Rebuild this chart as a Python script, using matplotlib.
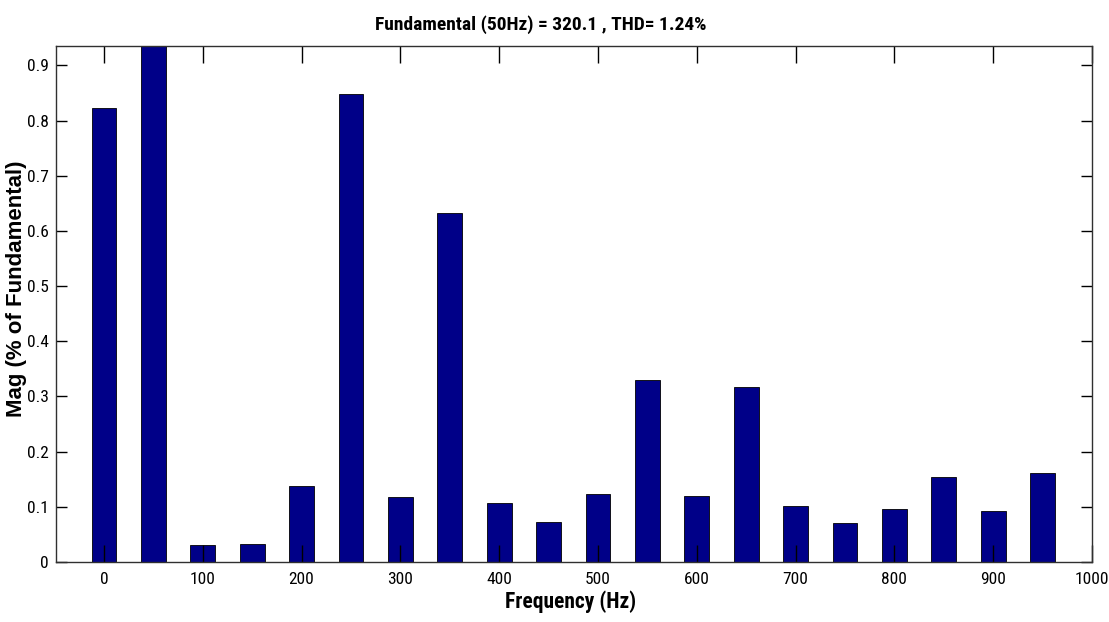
import matplotlib
matplotlib.use("Agg")
import matplotlib.pyplot as plt
from matplotlib import font_manager
import numpy as np

# harmonic spectrum (% of fundamental), bins every 50 Hz
freqs = np.arange(0, 1000, 50)
mags = [0.822, 0.935, 0.030, 0.033, 0.138, 0.848, 0.117, 0.633, 0.107, 0.073,
        0.123, 0.330, 0.120, 0.318, 0.102, 0.070, 0.096, 0.154, 0.093, 0.162]
yticks = np.arange(0, 1.0, 0.1)
ytick_labels = ["0", "0.1", "0.2", "0.3", "0.4", "0.5", "0.6", "0.7", "0.8", "0.9"]
xticks = np.arange(0, 1001, 100)

# pick a condensed face if one is around, else Arial-metric Liberation Sans
installed = {f.name for f in font_manager.fontManager.ttflist}
narrow = [f for f in ["Liberation Sans Narrow", "Roboto Condensed", "Open Sans Condensed",
                      "Liberation Sans"] if f in installed][:1] + ["DejaVu Sans"]
wide = ["Liberation Sans", "DejaVu Sans"]
is_condensed = narrow[0] != "Liberation Sans"
tick_fs = 12.5 if is_condensed else 10.5
title_fs = 14 if is_condensed else 12.5
xlab_fs = 15.5 if is_condensed else 13.5

fig = plt.figure(figsize=(11.09, 6.22), dpi=100)
ax = fig.add_axes([56 / 1109, 60 / 622, 1036 / 1109, 516 / 622])

ax.bar(freqs, mags, width=25, color="#000088", edgecolor="black", linewidth=0.6)

ax.set_xlim(-48.6, 1000)
ax.set_ylim(0, 0.935)
ax.set_xticks(xticks)
ax.set_xticklabels([str(x) for x in xticks], family=narrow, fontsize=tick_fs)
ax.set_yticks(yticks)
ax.set_yticklabels(ytick_labels, family=narrow, fontsize=tick_fs)

ax.tick_params(axis="both", direction="in", top=True, right=True, width=1.0, colors="black")
ax.tick_params(axis="x", length=12, pad=7)
ax.tick_params(axis="y", length=8, pad=5)
for s in ax.spines.values():
    s.set_linewidth(1.0)
    s.set_color("#303030")

fig.text(541 / 1109, 1 - 30 / 622, "Fundamental (50Hz) = 320.1 , THD= 1.24%",
         ha="center", va="baseline", family=narrow, fontweight="bold", fontsize=title_fs)
fig.text(571 / 1109, 1 - 608 / 622, "Frequency (Hz)",
         ha="center", va="baseline", family=narrow, fontweight="bold", fontsize=xlab_fs)
fig.text(17 / 1109, 1 - 289 / 622, "Mag (% of Fundamental)", rotation=90,
         ha="center", va="center", family=wide, fontweight="bold", fontsize=16)

fig.savefig("out.png", dpi=100)
